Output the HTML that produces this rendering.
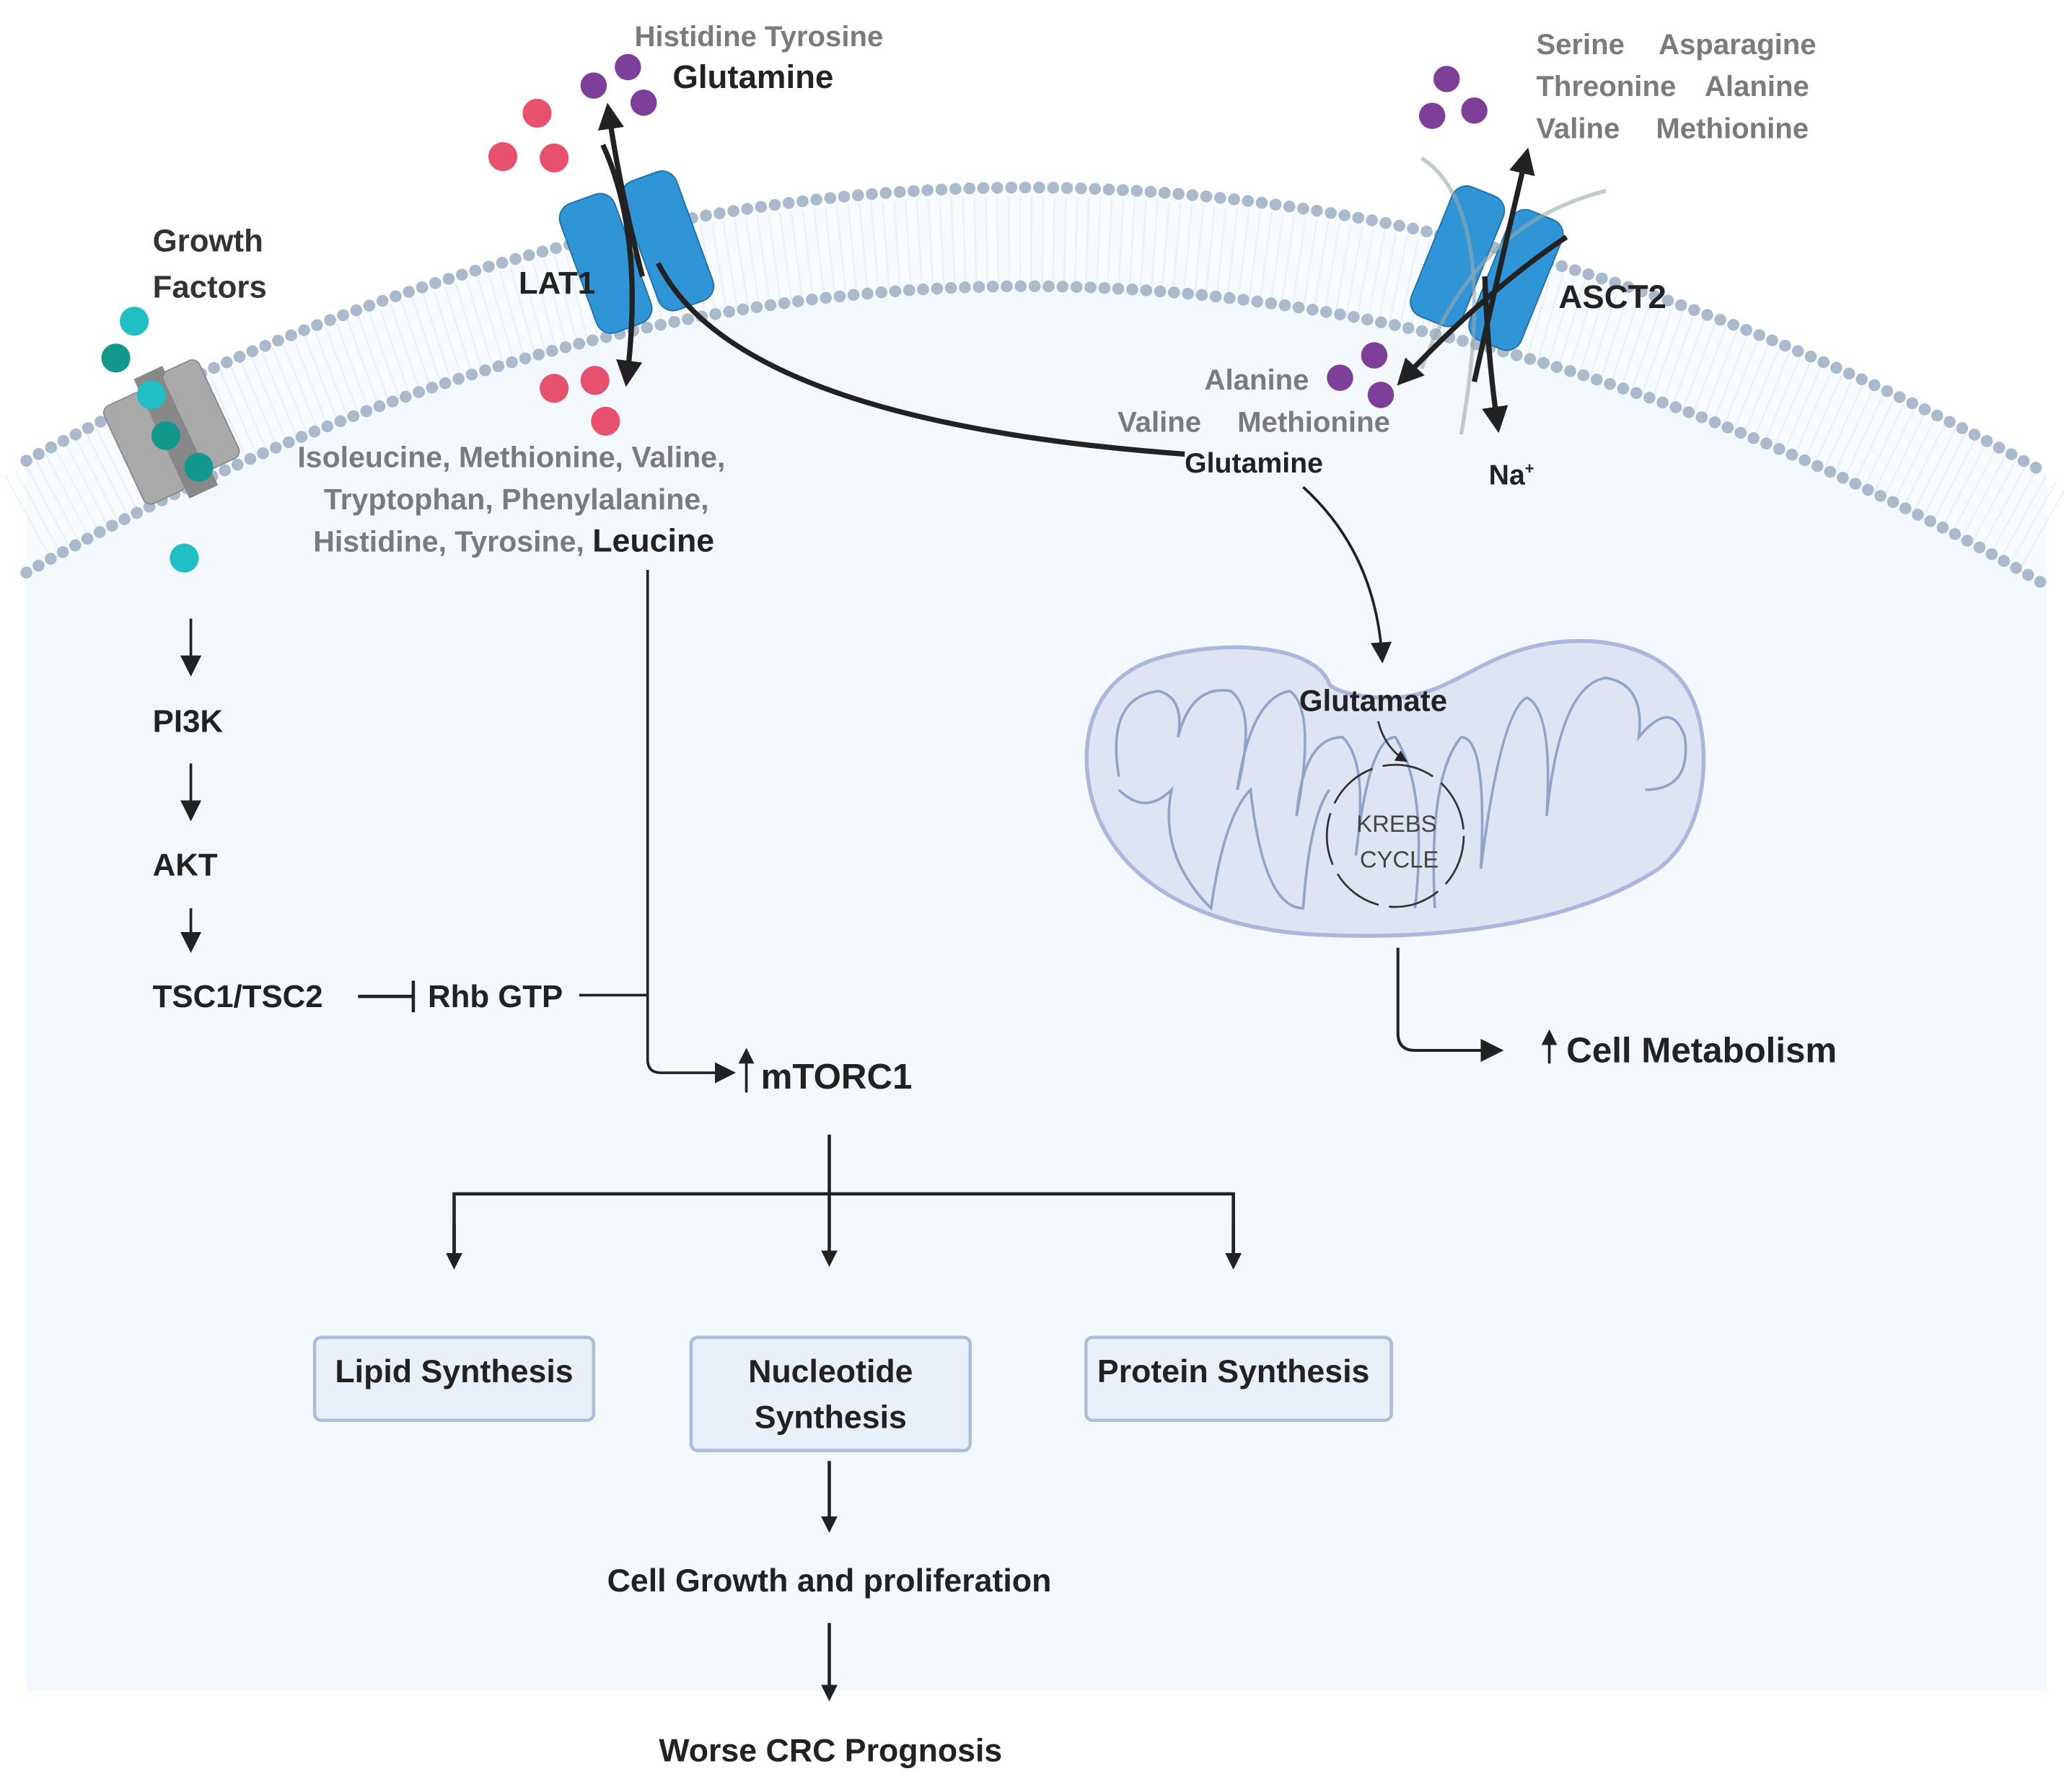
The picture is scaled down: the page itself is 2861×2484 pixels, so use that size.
<!DOCTYPE html>
<html><head><meta charset="utf-8"><style>
html,body{margin:0;padding:0;background:#fff;}
svg{display:block;}
text{font-family:"Liberation Sans",sans-serif;font-weight:bold;}
</style></head><body>
<svg width="2861" height="2484" viewBox="0 0 1568 1361.4" preserveAspectRatio="none" xmlns="http://www.w3.org/2000/svg">
<defs>
<marker id="ah" markerWidth="8" markerHeight="8" refX="6" refY="4" orient="auto" markerUnits="strokeWidth"><path d="M0,0 L8,4 L0,8 Z" fill="#222"/></marker>
<marker id="ah2" markerWidth="5" markerHeight="5" refX="4" refY="2.5" orient="auto" markerUnits="strokeWidth"><path d="M0,0 L5,2.5 L0,5 Z" fill="#222"/></marker>
<marker id="as" markerWidth="6" markerHeight="6" refX="5" refY="3" orient="auto" markerUnits="strokeWidth"><path d="M0,0 L6,3 L0,6 Z" fill="#222"/></marker>
</defs>
<rect width="1568" height="1362" fill="#fff"/>
<path d="M20,350 Q790,-70 1555,360 L1555,1285 L20,1285 Z" fill="#f3f8fc"/>
<path d="M20,350 Q790,-70 1555,360 L1555,445 Q790,-5 20,435 Z" fill="#f8fbfd"/>
<path d="M20,350 Q790,-70 1555,360" fill="none" stroke="#e3ebf1" stroke-width="70" stroke-dasharray="1.5 7" transform="translate(0,42)" opacity="0.6"/>
<path d="M20,350 Q790,-70 1555,360" fill="none" stroke="#a8bacb" stroke-width="9" stroke-linecap="round" stroke-dasharray="0.1 10.5"/>
<path d="M20,435 Q790,-5 1555,445" fill="none" stroke="#a8bacb" stroke-width="9" stroke-linecap="round" stroke-dasharray="0.1 10.5"/>

<g transform="translate(130,330) rotate(-25)">
<rect x="-40" y="-40" width="34" height="82" rx="6" fill="#a9a9a9" stroke="#888"/>
<rect x="-8" y="-50" width="24" height="100" fill="#888"/>
<rect x="12" y="-45" width="30" height="82" rx="6" fill="#a9a9a9" stroke="#888"/>
</g>
<circle cx="102" cy="244" r="11" fill="#1fbfc4"/>
<circle cx="88" cy="272" r="11" fill="#12998c"/>
<circle cx="115" cy="300" r="11" fill="#1fbfc4"/>
<circle cx="126" cy="331" r="11" fill="#12998c"/>
<circle cx="151" cy="355" r="11" fill="#12998c"/>
<circle cx="140" cy="424" r="11" fill="#1fbfc4"/>
<text x="116" y="191" font-size="24" fill="#333">Growth</text>
<text x="116" y="226" font-size="24" fill="#333">Factors</text>

<g transform="translate(482,190) rotate(-20)">
<rect x="-46" y="-50" width="44" height="104" rx="12" fill="#2f95d6" stroke="#1f6fa5"/>
<rect x="4" y="-50" width="44" height="104" rx="12" fill="#2f95d6" stroke="#1f6fa5"/>
</g>
<text x="394" y="223" font-size="24" fill="#222">LAT1</text>
<circle cx="451" cy="65" r="10" fill="#7d3f98"/>
<circle cx="477" cy="51" r="10" fill="#7d3f98"/>
<circle cx="489" cy="78" r="10" fill="#7d3f98"/>
<circle cx="408" cy="86" r="11" fill="#e8516e"/>
<circle cx="382" cy="119" r="11" fill="#e8516e"/>
<circle cx="421" cy="120" r="11" fill="#e8516e"/>
<circle cx="421" cy="295" r="11" fill="#e8516e"/>
<circle cx="452" cy="289" r="11" fill="#e8516e"/>
<circle cx="460" cy="320" r="11" fill="#e8516e"/>
<path d="M488,210 Q470,140 462,82" fill="none" stroke="#222" stroke-width="4" marker-end="url(#ah2)"/>
<path d="M458,110 Q490,180 476,290" fill="none" stroke="#222" stroke-width="4" marker-end="url(#ah2)"/>
<path d="M500,200 Q560,320 900,345" fill="none" stroke="#222" stroke-width="4"/>
<text x="482" y="35" font-size="22" fill="#7b7b7b">Histidine Tyrosine</text>
<text x="511" y="67" font-size="25" fill="#222">Glutamine</text>
<text x="226" y="355" font-size="22.5" fill="#7b7b7b">Isoleucine, Methionine, Valine,</text>
<text x="246" y="387" font-size="22.5" fill="#7b7b7b">Tryptophan, Phenylalanine,</text>
<text x="238" y="419" font-size="22.5" fill="#7b7b7b">Histidine, Tyrosine, <tspan fill="#222" font-size="24.5">Leucine</tspan></text>

<g transform="translate(1130,205) rotate(22)">
<rect x="-46" y="-54" width="42" height="106" rx="12" fill="#2f95d6" stroke="#1f6fa5"/>
<rect x="2" y="-54" width="42" height="106" rx="12" fill="#2f95d6" stroke="#1f6fa5"/>
</g>
<path d="M1080,120 Q1140,160 1110,330" fill="none" stroke="#9aa" stroke-width="3" opacity="0.6"/>
<path d="M1220,145 Q1120,170 1080,280" fill="none" stroke="#9aa" stroke-width="3" opacity="0.6"/>
<circle cx="1099" cy="60" r="10" fill="#7d3f98"/>
<circle cx="1088" cy="88" r="10" fill="#7d3f98"/>
<circle cx="1120" cy="84" r="10" fill="#7d3f98"/>
<circle cx="1018" cy="287" r="10" fill="#7d3f98"/>
<circle cx="1044" cy="270" r="10" fill="#7d3f98"/>
<circle cx="1049" cy="300" r="10" fill="#7d3f98"/>
<path d="M1120,290 Q1140,200 1160,116" fill="none" stroke="#222" stroke-width="4" marker-end="url(#ah2)"/>
<path d="M1190,180 Q1130,220 1064,290" fill="none" stroke="#222" stroke-width="4" marker-end="url(#ah2)"/>
<path d="M1128,210 Q1130,270 1138,325" fill="none" stroke="#222" stroke-width="4" marker-end="url(#ah2)"/>
<text x="1184" y="234" font-size="25" fill="#222">ASCT2</text>
<text x="1167" y="41" font-size="22" fill="#7b7b7b">Serine</text>
<text x="1260" y="41" font-size="22" fill="#7b7b7b">Asparagine</text>
<text x="1167" y="73" font-size="22" fill="#7b7b7b">Threonine</text>
<text x="1295" y="73" font-size="22" fill="#7b7b7b">Alanine</text>
<text x="1167" y="105" font-size="22" fill="#7b7b7b">Valine</text>
<text x="1258" y="105" font-size="22" fill="#7b7b7b">Methionine</text>
<text x="915" y="296" font-size="22" fill="#7b7b7b">Alanine</text>
<text x="849" y="328" font-size="22" fill="#7b7b7b">Valine</text>
<text x="940" y="328" font-size="22" fill="#7b7b7b">Methionine</text>
<text x="900" y="359" font-size="21.5" fill="#222">Glutamine</text>
<text x="1131" y="368" font-size="21.5" fill="#222">Na<tspan font-size="12" dy="-8">+</tspan></text>

<path d="M1010,520 C1000,490 930,485 880,500 C830,515 820,560 828,600 C840,660 900,705 1000,710 C1100,715 1200,700 1260,660 C1300,630 1300,560 1285,530 C1270,495 1220,480 1170,490 C1120,500 1100,530 1055,530 C1030,530 1015,525 1010,520 Z" fill="#dde5f3" stroke="#aab6dc" stroke-width="3"/>
<path d="M850,590 Q840,530 880,525 Q900,530 895,560 Q905,520 935,525 Q955,540 940,600 Q950,530 980,525 Q1000,540 985,620 Q990,560 1020,560 Q1040,580 1030,650 Q1040,560 1060,560 Q1085,600 1075,690 M1090,690 Q1085,590 1110,560 Q1130,560 1125,660 Q1140,540 1160,530 Q1180,540 1175,620 Q1185,520 1220,515 Q1250,520 1245,560 Q1270,530 1280,560 Q1285,600 1250,600 M850,600 Q870,620 890,600 Q880,650 920,690 Q930,620 950,600 Q960,690 990,690 Q995,620 1010,600" fill="none" stroke="#8fa5c7" stroke-width="2"/>
<text x="987" y="540" font-size="23" fill="#222">Glutamate</text>
<ellipse cx="1060" cy="635" rx="52" ry="54" fill="none" stroke="#333" stroke-width="1.5" stroke-dasharray="40 8"/>
<path d="M1047,548 Q1052,568 1068,578" fill="none" stroke="#333" stroke-width="1.5" marker-end="url(#as)"/>
<text x="1061" y="632" font-size="18" fill="#444" text-anchor="middle" style="font-weight:normal">KREBS</text>
<text x="1063" y="659" font-size="18" fill="#444" text-anchor="middle" style="font-weight:normal">CYCLE</text>

<path d="M990,370 Q1045,420 1050,500" fill="none" stroke="#222" stroke-width="2" marker-end="url(#ah)"/>
<path d="M1062,720 L1062,785 Q1062,798 1075,798 L1138,798" fill="none" stroke="#222" stroke-width="2.2" marker-end="url(#ah)"/>
<path d="M1177,808 L1177,784" stroke="#222" stroke-width="2" marker-end="url(#as)"/>
<text x="1190" y="807" font-size="27" fill="#222">Cell Metabolism</text>

<path d="M145,470 L145,510" stroke="#222" stroke-width="2" marker-end="url(#ah)"/>
<text x="116" y="556" font-size="24" fill="#222">PI3K</text>
<path d="M145,580 L145,620" stroke="#222" stroke-width="2" marker-end="url(#ah)"/>
<text x="116" y="665" font-size="24" fill="#222">AKT</text>
<path d="M145,690 L145,720" stroke="#222" stroke-width="2" marker-end="url(#ah)"/>
<text x="116" y="765" font-size="24" fill="#222">TSC1/TSC2</text>
<path d="M272,757 L314,757 M314,745 L314,769" stroke="#222" stroke-width="2.5"/>
<text x="325" y="765" font-size="24" fill="#222">Rhb GTP</text>
<path d="M440,756 L492,756" stroke="#222" stroke-width="2"/>
<path d="M492,433 L492,805 Q492,815 502,815 L555,815" fill="none" stroke="#222" stroke-width="2" marker-end="url(#ah)"/>
<path d="M567,830 L567,798" stroke="#222" stroke-width="2" marker-end="url(#as)"/>
<text x="578" y="827" font-size="27" fill="#222">mTORC1</text>

<path d="M630,862 L630,960" stroke="#222" stroke-width="2.5" marker-end="url(#ah2)"/>
<path d="M345,960 L345,907 L937,907 L937,960" fill="none" stroke="#222" stroke-width="2.5"/>
<path d="M345,930 L345,962" stroke="#222" stroke-width="2.5" marker-end="url(#ah2)"/>
<path d="M937,930 L937,962" stroke="#222" stroke-width="2.5" marker-end="url(#ah2)"/>

<rect x="239" y="1016" width="212" height="63" rx="5" fill="#e8f0f9" stroke="#a9bfd9" stroke-width="2.5"/>
<text x="345" y="1050" font-size="24.5" fill="#222" text-anchor="middle">Lipid Synthesis</text>
<rect x="525" y="1016" width="212" height="86" rx="5" fill="#e8f0f9" stroke="#a9bfd9" stroke-width="2.5"/>
<text x="631" y="1050" font-size="24.5" fill="#222" text-anchor="middle">Nucleotide</text>
<text x="631" y="1085" font-size="24.5" fill="#222" text-anchor="middle">Synthesis</text>
<rect x="825" y="1016" width="232" height="63" rx="5" fill="#e8f0f9" stroke="#a9bfd9" stroke-width="2.5"/>
<text x="937" y="1050" font-size="24.5" fill="#222" text-anchor="middle">Protein Synthesis</text>

<path d="M630,1110 L630,1162" stroke="#222" stroke-width="2.5" marker-end="url(#ah2)"/>
<text x="630" y="1209" font-size="24.5" fill="#222" text-anchor="middle">Cell Growth and proliferation</text>
<path d="M630,1233 L630,1290" stroke="#222" stroke-width="2.5" marker-end="url(#ah2)"/>
<text x="631" y="1338" font-size="24.5" fill="#222" text-anchor="middle">Worse CRC Prognosis</text>
</svg>
</body></html>
